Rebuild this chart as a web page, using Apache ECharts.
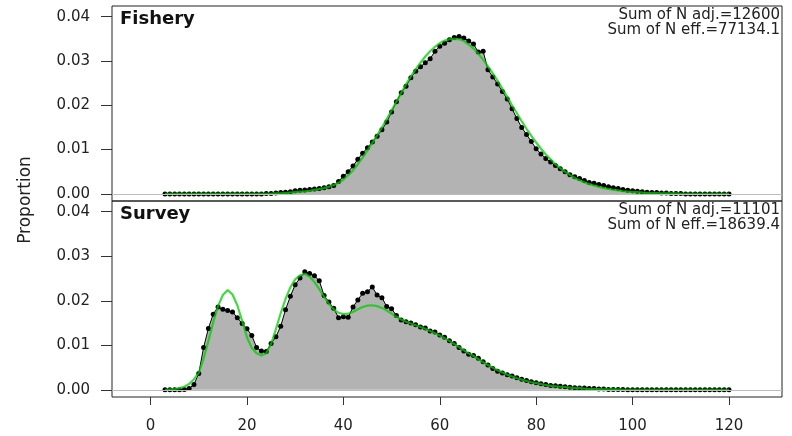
<!DOCTYPE html>
<html>
<head>
<meta charset="utf-8">
<script src="https://cdn.jsdelivr.net/npm/echarts@6.0.0/dist/echarts.min.js"></script>
<style>
  html, body { margin: 0; padding: 0; background: #fff; }
  #chart { width: 792px; height: 436px; }
</style>
</head>
<body>
<div id="chart"></div>
<script>
// length bins 3..120
var lengths = [];
for (var l = 3; l <= 120; l++) lengths.push(l);

var fisheryObs = [
  0, 0, 0, 0, 0, 0, 0, 0, 0, 0,                                   // 3-12
  0, 0, 0, 0, 0, 0, 0, 0, 0, 0,                                   // 13-22
  0, .0001, .0001, .0002, .0003, .0004, .0005, .0007, .0008, .0009, // 23-32
  .0010, .0011, .0012, .0014, .0016, .0019, .0028, .0040, .0050, .0063,
  .0078, .0092, .0104, .0117, .0130, .0145, .0162, .0185, .0208, .0228,
  .0243, .0262, .0277, .0287, .0296, .0305, .0322, .0333, .0340, .0348,
  .0353, .0355, .0352, .0345, .0338, .0320, .0322, .0280, .0264, .0248,
  .0231, .0214, .0192, .0170, .0150, .0134, .0118, .0102, .0090, .0080,
  .0072, .0064, .0057, .0050, .0043, .0039, .0035, .0030, .0026, .0024,
  .0021, .0019, .0016, .0014, .0012, .0010, .0008, .0007, .0006, .0005,
  .0004, .0003, .0003, .0002, .0002, .0001, .0001, .0001, 0, 0,
  0, 0, 0, 0, 0, 0, 0, 0                                          // 113-120
];
var fisheryExp = [
  0, 0, 0, 0, 0, 0, 0, 0, 0, 0,
  0, 0, 0, 0, 0, 0, 0, 0, 0, 0,
  0, 0, 0, .0001, .0001, .0002, .0003, .0004, .0005, .0006,
  .0007, .0009, .0011, .0013, .0016, .0020, .0025, .0032, .0042, .0053,
  .0067, .0082, .0098, .0115, .0132, .0150, .0169, .0188, .0208, .0228,
  .0247, .0265, .0281, .0296, .0310, .0322, .0332, .0340, .0346, .0349,
  .0350, .0349, .0345, .0337, .0328, .0316, .0303, .0288, .0272, .0255,
  .0237, .0219, .0200, .0182, .0164, .0147, .0131, .0116, .0102, .0089,
  .0078, .0067, .0058, .0050, .0043, .0036, .0031, .0026, .0022, .0019,
  .0016, .0013, .0011, .0009, .0008, .0006, .0005, .0004, .0004, .0003,
  .0002, .0002, .0002, .0001, .0001, .0001, .0001, 0, 0, 0,
  0, 0, 0, 0, 0, 0, 0, 0
];
var surveyObs = [
  0, 0, 0, 0, .0001, .0003, .0012, .0037, .0095, .0138,
  .0170, .0186, .0181, .0178, .0175, .0162, .0149, .0137, .0122, .0095,
  .0087, .0086, .0104, .0119, .0143, .0180, .0210, .0236, .0251, .0265,
  .0261, .0256, .0245, .0212, .0197, .0183, .0162, .0164, .0163, .0186,
  .0202, .0217, .0220, .0231, .0213, .0207, .0187, .0182, .0167, .0157,
  .0153, .0150, .0146, .0141, .0139, .0132, .0130, .0123, .0118, .0110,
  .0104, .0095, .0087, .0080, .0077, .0071, .0063, .0056, .0048, .0042,
  .0038, .0034, .0031, .0027, .0024, .0021, .0018, .0016, .0014, .0012,
  .0010, .0009, .0008, .0007, .0006, .0005, .0004, .0004, .0003, .0003,
  .0002, .0002, .0001, .0001, .0001, .0001, 0, 0, 0, 0,
  0, 0, 0, 0, 0, 0, 0, 0, 0, 0,
  0, 0, 0, 0, 0, 0, 0, 0
];
var surveyExp = [
  0, .0001, .0002, .0004, .0007, .0013, .0024, .0038, .0070, .0110,
  .0152, .0188, .0213, .0224, .0214, .0190, .0155, .0118, .0094, .0082,
  .0077, .0082, .0103, .0136, .0172, .0204, .0230, .0248, .0257, .0260,
  .0254, .0242, .0226, .0209, .0193, .0181, .0173, .0170, .0171, .0175,
  .0181, .0186, .0189, .0190, .0188, .0184, .0178, .0171, .0164, .0158,
  .0153, .0149, .0145, .0141, .0137, .0132, .0127, .0122, .0116, .0110,
  .0103, .0096, .0089, .0082, .0076, .0069, .0062, .0056, .0050, .0044,
  .0039, .0034, .0030, .0026, .0023, .0020, .0017, .0015, .0013, .0011,
  .0009, .0008, .0007, .0006, .0005, .0004, .0004, .0003, .0002, .0002,
  .0002, .0001, .0001, .0001, .0001, 0, 0, 0, 0, 0,
  0, 0, 0, 0, 0, 0, 0, 0, 0, 0,
  0, 0, 0, 0, 0, 0, 0, 0
];

var xTicks = [0, 20, 40, 60, 80, 100, 120];
var yTicks = [0, 0.01, 0.02, 0.03, 0.04];
var panelNames = ['Fishery', 'Survey'];
var sumAdj = ['Sum of N adj.=12600', 'Sum of N adj.=11101'];
var sumEff = ['Sum of N eff.=77134.1', 'Sum of N eff.=18639.4'];

var FONT = 'DejaVu Sans';

function pairs(vals) {
    var out = [];
    for (var i = 0; i < lengths.length; i++) out.push([lengths[i], vals[i]]);
    return out;
}

function makeY(idx) {
    return {
        gridIndex: idx, type: 'value', min: -0.0016, max: 0.0424,
        splitLine: { show: false },
        axisLine: { show: false, onZero: false },
        axisTick: { show: true, inside: false, length: 11, customValues: yTicks,
                    lineStyle: { color: '#333', width: 1 } },
        axisLabel: { show: true, customValues: yTicks, margin: 22, fontFamily: FONT,
                     fontSize: 15, color: '#222',
                     formatter: function (v) { return v.toFixed(2); } }
    };
}

function makeX(idx, labels) {
    return {
        gridIndex: idx, type: 'value', min: -8, max: 131,
        splitLine: { show: false },
        axisLine: { show: false, onZero: false },
        axisTick: { show: labels, inside: false, length: 8, customValues: xTicks,
                    lineStyle: { color: '#333', width: 1 } },
        axisLabel: { show: labels, customValues: xTicks, margin: 22, fontFamily: FONT,
                     fontSize: 15, color: '#222' }
    };
}

function obsSeries(idx, vals) {
    return {
        type: 'line', xAxisIndex: idx, yAxisIndex: idx, data: pairs(vals),
        symbol: 'circle', symbolSize: 5, showSymbol: true,
        itemStyle: { color: '#000' },
        lineStyle: { color: '#000', width: 1 },
        areaStyle: { color: '#b3b3b3', opacity: 1 },
        markLine: {
            silent: true, symbol: 'none', label: { show: false },
            lineStyle: { color: '#bdbdbd', width: 1, type: 'solid' },
            data: [{ yAxis: 0 }]
        },
        z: 2
    };
}

function expSeries(idx, vals) {
    return {
        type: 'line', xAxisIndex: idx, yAxisIndex: idx, data: pairs(vals),
        symbol: 'none', smooth: false,
        lineStyle: { color: 'rgba(0,205,0,0.75)', width: 2.2 },
        z: 3
    };
}

var graphics = [
    { type: 'text', x: 26, y: 200, rotation: Math.PI / 2,
      style: { text: 'Proportion', font: '17px ' + FONT, fill: '#222',
               textAlign: 'center', textVerticalAlign: 'middle' } }
];
var panelTop = [6, 201];
for (var p = 0; p < 2; p++) {
    graphics.push({ type: 'text', x: 120, y: panelTop[p] + 4,
        style: { text: panelNames[p], font: 'bold 18px ' + FONT, fill: '#111', textVerticalAlign: 'top' } });
    graphics.push({ type: 'text', x: 780, y: panelTop[p] + 2,
        style: { text: sumAdj[p], font: '15px ' + FONT, fill: '#222', textAlign: 'right', textVerticalAlign: 'top' } });
    graphics.push({ type: 'text', x: 780, y: panelTop[p] + 17,
        style: { text: sumEff[p], font: '15px ' + FONT, fill: '#222', textAlign: 'right', textVerticalAlign: 'top' } });
}

var myChart = echarts.init(document.getElementById('chart'));
myChart.setOption({
    animation: false,
    grid: [
        { left: 112, top: 6, width: 670, height: 195, show: true, borderColor: '#222', borderWidth: 1 },
        { left: 112, top: 201, width: 670, height: 196, show: true, borderColor: '#222', borderWidth: 1 }
    ],
    xAxis: [makeX(0, false), makeX(1, true)],
    yAxis: [makeY(0), makeY(1)],
    series: [
        obsSeries(0, fisheryObs), expSeries(0, fisheryExp),
        obsSeries(1, surveyObs), expSeries(1, surveyExp)
    ],
    graphic: graphics
});
</script>
</body>
</html>
